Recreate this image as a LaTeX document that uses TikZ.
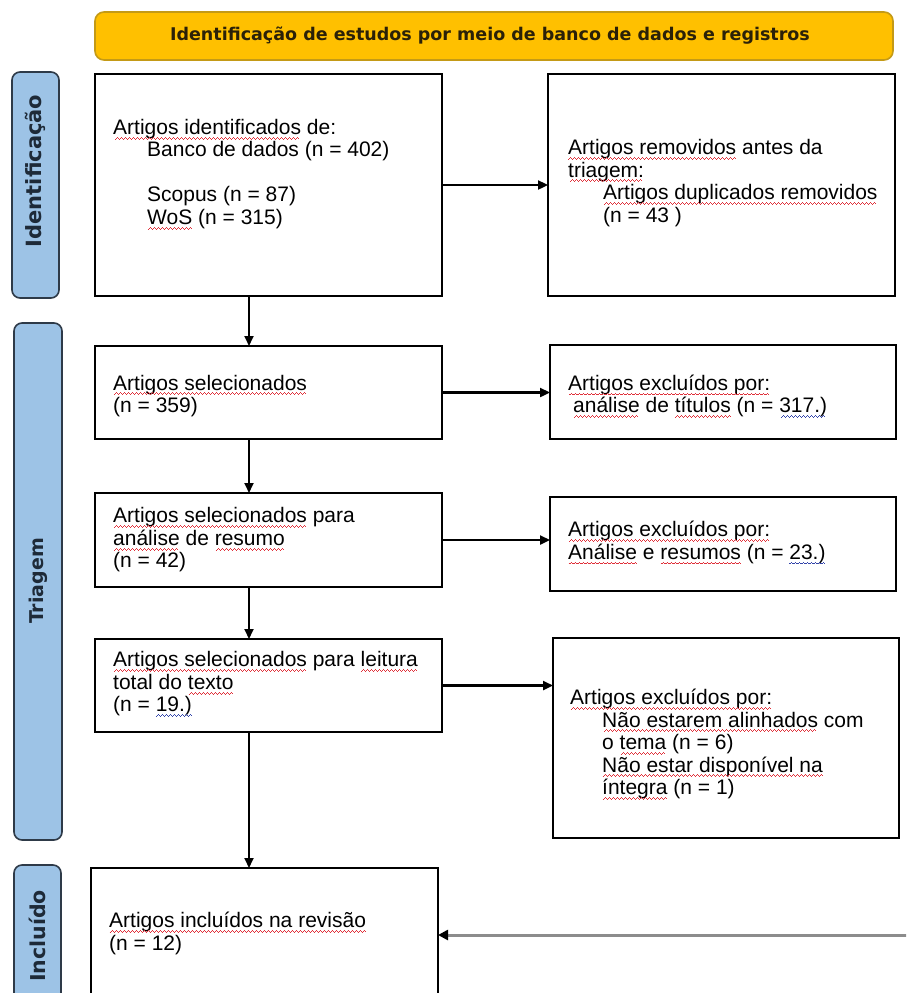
\documentclass[tikz,border=0pt]{standalone}
\usepackage{fontspec}
\setmainfont{Liberation Sans}
\newfontfamily\tabfont{DejaVu Sans}
\usetikzlibrary{arrows.meta}

\definecolor{hdrfill}{HTML}{FFC000}
\definecolor{hdrline}{HTML}{C49A16}
\definecolor{hdrtext}{HTML}{2B2108}
\definecolor{tabfill}{HTML}{9DC3E6}
\definecolor{tabline}{HTML}{2E3A48}
\definecolor{tabtext}{HTML}{1E2A38}
\definecolor{sqred}{HTML}{E0303A}
\definecolor{sqblue}{HTML}{3344AA}
\definecolor{linkgray}{HTML}{8C8C8C}

% wavy spell-check style underlines built from small stepped rules
\newcommand\wavecell{\hbox{\rule[0pt]{1pt}{0.9pt}\rule[0.9pt]{1pt}{0.9pt}%
  \rule[1.8pt]{1pt}{0.9pt}\rule[0.9pt]{1pt}{0.9pt}}}
\newsavebox\sqbox
\newcommand\sqmark[2]{\sbox\sqbox{#2}\leavevmode\rlap{\usebox\sqbox}%
  \raisebox{-5pt}[0pt][0pt]{\color{#1}\cleaders\wavecell\hskip\wd\sqbox}}
\newcommand\sqr[1]{\sqmark{sqred}{#1}}
\newcommand\sqb[1]{\sqmark{sqblue}{#1}}

\tikzset{
  flowbox/.style={draw=black, line width=1.7pt, fill=white, inner sep=0pt, outer sep=0pt},
  boxtext/.style={anchor=west, align=left, inner sep=0pt, font=\fontsize{21}{22.5}\selectfont},
  stagetab/.style={draw=tabline, line width=1.6pt, fill=tabfill, rounded corners=8pt, inner sep=0pt, outer sep=0pt},
  stagelabel/.style={rotate=90, text=tabtext, inner sep=0pt},
  flowarrow/.style={line width=1.8pt, -{Triangle[length=10pt,width=9pt]}},
  sidearrow/.style={flowarrow, line width=2.3pt},
}

\begin{document}
\begin{tikzpicture}[x=1pt, y=-1pt]
\useasboundingbox (0,0) rectangle (906,993);
\fill[white] (0,0) rectangle (906,993);
\clip (0,0) rectangle (906,993);

% header bar
\node[draw=hdrline, line width=1.6pt, fill=hdrfill, rounded corners=9pt,
      minimum width=798pt, minimum height=48pt, inner sep=0pt] (hdr) at (494,36) {};
\node[text=hdrtext, font=\tabfont\bfseries\fontsize{17.5}{20}\selectfont] (hdrlabel) at (490,36) {Identificação de estudos por meio de banco de dados e registros};

% stage tabs on the left
\node[stagetab, minimum width=47pt, minimum height=226pt] (tab1) at (35.5,185) {};
\node[stagelabel, font=\tabfont\bfseries\fontsize{21}{24}\selectfont] (tab1label) at (35.5,171) {Identificação};
\node[stagetab, minimum width=48pt, minimum height=517pt] (tab2) at (38,581.5) {};
\node[stagelabel, font=\tabfont\bfseries\fontsize{19}{22}\selectfont] (tab2label) at (38,581) {Triagem};
\node[stagetab, minimum width=47pt, minimum height=160pt] (tab3) at (37.5,945) {};
\node[stagelabel, font=\tabfont\bfseries\fontsize{20.5}{24}\selectfont] (tab3label) at (37.5,936) {Incluído};

% main column
\node[flowbox, minimum width=347pt, minimum height=222pt] (A1) at (268.5,185) {};
\node[flowbox, minimum width=347pt, minimum height=93pt]  (A2) at (268.5,392.5) {};
\node[flowbox, minimum width=347pt, minimum height=94pt]  (A3) at (268.5,540) {};
\node[flowbox, minimum width=347pt, minimum height=93pt]  (A4) at (268.5,685.5) {};
\node[flowbox, minimum width=347pt, minimum height=142pt] (A5) at (264.5,939) {};

% exclusion column
\node[flowbox, minimum width=347pt, minimum height=222pt] (B1) at (721.5,185) {};
\node[flowbox, minimum width=346pt, minimum height=94pt]  (B2) at (723,392) {};
\node[flowbox, minimum width=346pt, minimum height=94pt]  (B3) at (723,544) {};
\node[flowbox, minimum width=346pt, minimum height=200pt] (B4) at (726,738) {};

% box texts
\node[boxtext] (tA1) at (113,174) {\sqr{Artigos identificados} de:\\
  \hspace*{34pt}Banco de dados (n = 402)\\[22.5pt]
  \hspace*{34pt}Scopus (n = 87)\\
  \hspace*{34pt}\sqr{WoS} (n = 315)};
\node[boxtext] (tB1) at (568,183) {\sqr{Artigos removidos} antes da\\
  \sqr{triagem:}\\
  \hspace*{35pt}\sqr{Artigos duplicados removidos}\\
  \hspace*{35pt}(n = 43 )};
\node[boxtext] (tA2) at (113,396) {\sqr{Artigos selecionados}\\(n = 359)};
\node[boxtext] (tB2) at (568,396) {\sqr{Artigos excluídos por:}\\
  \hspace*{5pt}\sqr{análise} de \sqr{títulos} (n = \sqb{317.)}};
\node[boxtext] (tA3) at (113,540) {\sqr{Artigos selecionados} para\\
  \sqr{análise} de \sqr{resumo}\\(n = 42)};
\node[boxtext] (tB3) at (568,542.5) {\sqr{Artigos excluídos por:}\\
  \sqr{Análise} e \sqr{resumos} (n = \sqb{23.)}};
\node[boxtext] (tA4) at (113,684) {\sqr{Artigos selecionados} para \sqr{leitura}\\
  total do \sqr{texto}\\(n = \sqb{19.)}};
\node[boxtext] (tB4) at (570,744) {\sqr{Artigos excluídos por:}\\
  \hspace*{32pt}\sqr{Não estarem alinhados} com\\
  \hspace*{32pt}o \sqr{tema} (n = 6)\\
  \hspace*{32pt}\sqr{Não estar disponível na}\\
  \hspace*{32pt}\sqr{íntegra} (n = 1)};
\node[boxtext] (tA5) at (109,933.5) {\sqr{Artigos incluídos na revisão}\\(n = 12)};

% connectors
\coordinate (colx) at (249,0);
\coordinate (feed) at (910,935);
\draw[flowarrow] (A1.south -| colx) -- (A2.north -| colx);
\draw[flowarrow] (A2.south -| colx) -- (A3.north -| colx);
\draw[flowarrow] (A3.south -| colx) -- (A4.north -| colx);
\draw[flowarrow] (A4.south -| colx) -- (A5.north -| colx);
\draw[sidearrow] (A1.east) -- (B1.west);
\draw[sidearrow] (A2.east) -- (A2.east -| B2.west);
\draw[sidearrow] (A3.east) -- (A3.east -| B3.west);
\draw[sidearrow] (A4.east) -- (A4.east -| B4.west);
\draw[line width=3pt, draw=linkgray, -{Triangle[length=10pt,width=10pt,color=black]}] (feed) -- (feed -| A5.east);
\end{tikzpicture}
\end{document}
